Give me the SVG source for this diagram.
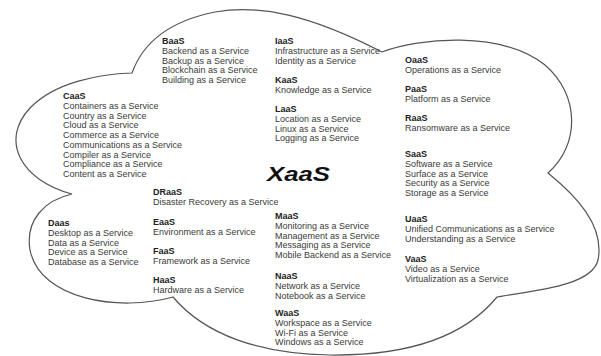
<svg xmlns="http://www.w3.org/2000/svg" width="601" height="356" viewBox="0 0 601 356">
<style>
text{font-family:"Liberation Sans",Arial,sans-serif;font-size:9px;fill:#3a3a3a}
.h{font-weight:bold;fill:#222}
.t{font-size:20px;font-weight:bold;font-style:italic;fill:#111}
.cloud{fill:#fff;stroke:#555;stroke-width:1.2}
</style>
<rect width="601" height="356" fill="#fff"/>
<g id="cloud">
<path class="cloud" d="M132,73 C142,45 165,22 215,12 C260,4 310,15 382,52 C420,38 500,30 545,65 C580,95 580,145 548,173 C575,195 605,225 598,260 C592,285 540,290 497,297 C470,330 420,356 330,355 C260,354 205,335 173,297 C120,312 40,300 30,250 C25,220 45,200 72,194 C20,180 0,140 30,108 C55,82 100,74 132,73 Z"/>
</g>
<g id="title"><text class="t" x="267" y="181" textLength="63" lengthAdjust="spacingAndGlyphs">XaaS</text></g>
<g id="baas"><text class="h" x="162" y="44">BaaS</text><text x="162" y="53.75">Backend as a Service</text><text x="162" y="63.5">Backup as a Service</text><text x="162" y="73.25">Blockchain as a Service</text><text x="162" y="83">Building as a Service</text></g>
<g id="caas"><text class="h" x="63" y="99">CaaS</text><text x="63" y="108.75">Containers as a Service</text><text x="63" y="118.5">Country as a Service</text><text x="63" y="128.25">Cloud as a Service</text><text x="63" y="138">Commerce as a Service</text><text x="63" y="147.75">Communications as a Service</text><text x="63" y="157.5">Compiler as a Service</text><text x="63" y="167.25">Compliance as a Service</text><text x="63" y="177">Content as a Service</text></g>
<g id="iaas"><text class="h" x="275" y="44">IaaS</text><text x="275" y="53.75">Infrastructure as a Service</text><text x="275" y="63.5">Identity as a Service</text></g>
<g id="kaas"><text class="h" x="275" y="83">KaaS</text><text x="275" y="92.75">Knowledge as a Service</text></g>
<g id="laas"><text class="h" x="275" y="112">LaaS</text><text x="275" y="121.75">Location as a Service</text><text x="275" y="131.5">Linux as a Service</text><text x="275" y="141.25">Logging as a Service</text></g>
<g id="oaas"><text class="h" x="405" y="63">OaaS</text><text x="405" y="72.75">Operations as a Service</text></g>
<g id="paas"><text class="h" x="405" y="92">PaaS</text><text x="405" y="101.75">Platform as a Service</text></g>
<g id="raas"><text class="h" x="405" y="121">RaaS</text><text x="405" y="130.75">Ransomware as a Service</text></g>
<g id="saas"><text class="h" x="405" y="157">SaaS</text><text x="405" y="166.75">Software as a Service</text><text x="405" y="176.5">Surface as a Service</text><text x="405" y="186.25">Security as a Service</text><text x="405" y="196">Storage as a Service</text></g>
<g id="uaas"><text class="h" x="405" y="222">UaaS</text><text x="405" y="231.75">Unified Communications as a Service</text><text x="405" y="241.5">Understanding as a Service</text></g>
<g id="vaas"><text class="h" x="405" y="262">VaaS</text><text x="405" y="271.75">Video as a Service</text><text x="405" y="281.5">Virtualization as a Service</text></g>
<g id="draas"><text class="h" x="153" y="195">DRaaS</text><text x="153" y="204.75">Disaster Recovery as a Service</text></g>
<g id="eaas"><text class="h" x="153" y="225">EaaS</text><text x="153" y="234.75">Environment as a Service</text></g>
<g id="faas"><text class="h" x="153" y="254">FaaS</text><text x="153" y="263.75">Framework as a Service</text></g>
<g id="haas"><text class="h" x="153" y="283">HaaS</text><text x="153" y="292.75">Hardware as a Service</text></g>
<g id="daas"><text class="h" x="48" y="226">Daas</text><text x="48" y="235.75">Desktop as a Service</text><text x="48" y="245.5">Data as a Service</text><text x="48" y="255.25">Device as a Service</text><text x="48" y="265">Database as a Service</text></g>
<g id="maas"><text class="h" x="275" y="219">MaaS</text><text x="275" y="228.75">Monitoring as a Service</text><text x="275" y="238.5">Management as a Service</text><text x="275" y="248.25">Messaging as a Service</text><text x="275" y="258">Mobile Backend as a Service</text></g>
<g id="naas"><text class="h" x="275" y="279">NaaS</text><text x="275" y="288.75">Network as a Service</text><text x="275" y="298.5">Notebook as a Service</text></g>
<g id="waas"><text class="h" x="275" y="316">WaaS</text><text x="275" y="325.75">Workspace as a Service</text><text x="275" y="335.5">Wi-Fi as a Service</text><text x="275" y="345.25">Windows as a Service</text></g>
<g id="connectors"></g>
</svg>
